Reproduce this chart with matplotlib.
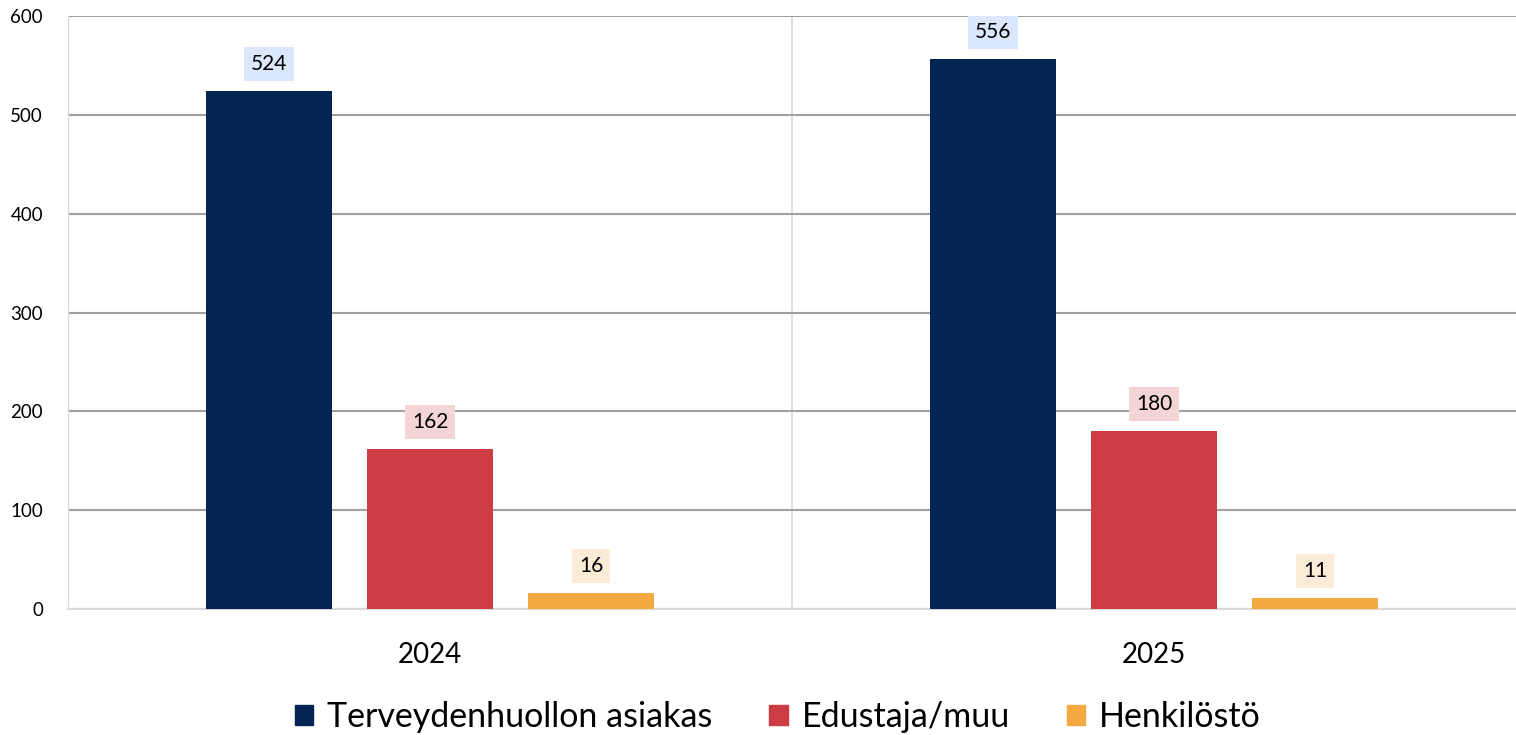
import numpy as np
from matplotlib import pyplot as plt
from matplotlib.patches import Patch

years = ["2024", "2025"]
series = ["Terveydenhuollon asiakas", "Edustaja/muu", "Henkilöstö"]
terveys = [524, 556]
edustaja = [162, 180]
henkilosto = [16, 11]

colors = ["#042453", "#cb3d42", "#f5a942"]
box_colors = ["#dae7fc", "#f3d5d5", "#fcebd6"]

plt.rcParams['font.family'] = ['Lato', 'DejaVu Sans']

fig = plt.figure(figsize=(15.16, 7.35), dpi=100)
ax = fig.add_axes([68/1516, 1 - 609/735, (1516-68)/1516, (609-16)/735])

x = np.arange(len(years))
width = 0.174
offset = 0.2224

for i, (vals, name) in enumerate(zip([terveys, edustaja, henkilosto], series)):
    pos = x + (i - 1) * offset
    ax.bar(pos, vals, width, color=colors[i], label=name, zorder=3)
    for p, v in zip(pos, vals):
        ax.annotate(str(v), (p, v), xytext=(0, 19.5), textcoords="offset points",
                    ha="center", va="center", fontsize=15, zorder=4,
                    bbox=dict(boxstyle="square,pad=0.33", fc=box_colors[i], ec="none"))

ax.set_xlim(-0.5, 1.5)
ax.set_ylim(0, 600)
ax.set_yticks(range(0, 601, 100))
ax.tick_params(axis="y", length=0, labelsize=13.5, pad=18)
ax.tick_params(axis="x", length=0, labelsize=20, pad=24)
ax.set_xticks(x)
ax.set_xticklabels(years)
ax.grid(axis="y", color="#a0a0a0", linewidth=1.5, zorder=1)
ax.axvline(0.5, color="#d9d9d9", linewidth=1.2, zorder=1)
for side in ["top", "right"]:
    ax.spines[side].set_visible(False)
ax.spines["left"].set_color("#d9d9d9")
ax.spines["bottom"].set_color("#d9d9d9")
ax.spines["bottom"].set_linewidth(1.5)

handles = [Patch(color=c, label=s) for c, s in zip(colors, series)]
fig.legend(handles=handles, loc="center", bbox_to_anchor=(0.513, 1 - 717/735), ncol=3,
           frameon=False, fontsize=24.5, handlelength=0.55, handleheight=0.55,
           handletextpad=0.4, columnspacing=1.67)

fig.savefig("out.png", dpi=100)
